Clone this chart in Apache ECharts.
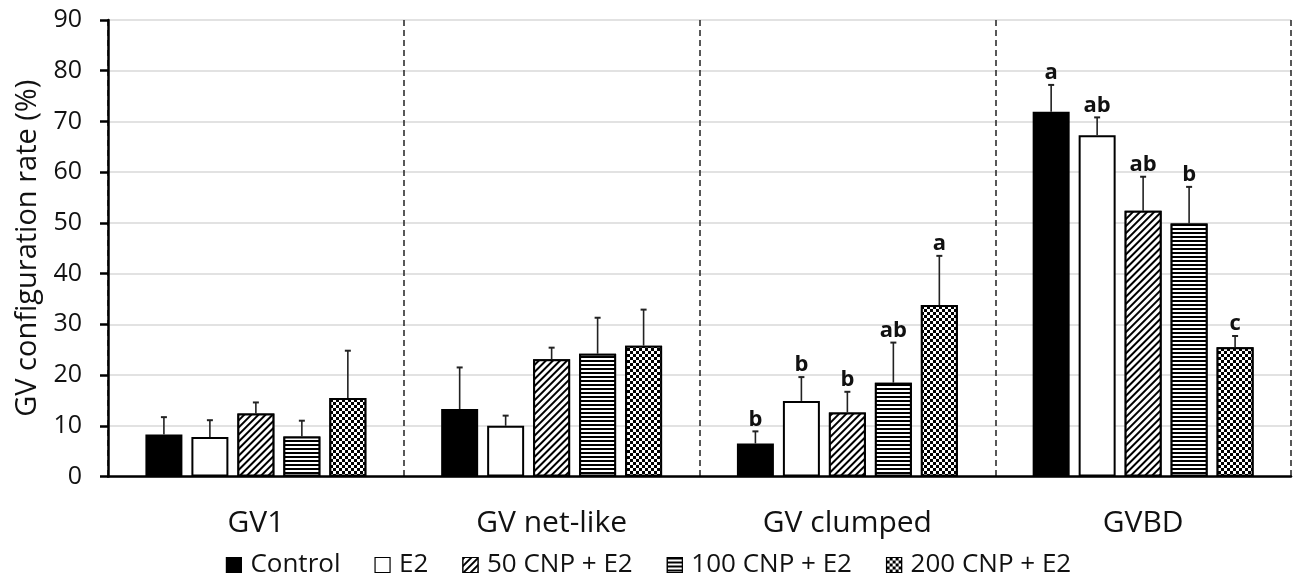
<!DOCTYPE html>
<html>
<head>
<meta charset="utf-8">
<script src="https://cdn.jsdelivr.net/npm/echarts@6/dist/echarts.min.js"></script>
<style>
html,body{margin:0;padding:0;background:#fff;}
#chart{width:1297px;height:582px;}
</style>
</head>
<body>
<div id="chart"></div>
<script>
const categories = ['GV1', 'GV net-like', 'GV clumped', 'GVBD'];
const seriesNames = ['Control', 'E2', '50 CNP + E2', '100 CNP + E2', '200 CNP + E2'];
const yTicks = [0, 10, 20, 30, 40, 50, 60, 70, 80, 90];

const control   = [8.3, 13.3, 6.5, 71.9];
const e2        = [7.8, 10.0, 14.9, 67.3];
const cnp50     = [12.4, 23.1, 12.6, 52.4];
const cnp100    = [7.9, 24.2, 18.5, 49.9];
const cnp200    = [15.5, 25.8, 33.8, 25.5];

const controlErr = [3.4, 8.2, 2.4, 5.3];
const e2Err      = [3.3, 2.0, 4.7, 3.5];
const cnp50Err   = [2.2, 2.3, 4.1, 6.7];
const cnp100Err  = [3.1, 7.1, 7.9, 7.2];
const cnp200Err  = [9.3, 7.1, 9.7, 2.2];

const controlLetters = ['', '', 'b', 'a'];
const e2Letters      = ['', '', 'b', 'ab'];
const cnp50Letters   = ['', '', 'b', 'ab'];
const cnp100Letters  = ['', '', 'ab', 'b'];
const cnp200Letters  = ['', '', 'a', 'c'];

const values = [control, e2, cnp50, cnp100, cnp200];
const errs = [controlErr, e2Err, cnp50Err, cnp100Err, cnp200Err];
const letters = [controlLetters, e2Letters, cnp50Letters, cnp100Letters, cnp200Letters];

const CAT_GAP = 0.253;
const BAR_GAP = 0.243;
const N = seriesNames.length;
const FONT = '"Open Sans", sans-serif';

const decals = [
  null,
  null,
  { symbol: 'rect', symbolSize: 1, dashArrayX: [1, 0], dashArrayY: [2, 3], rotation: -Math.PI / 4, color: '#000', backgroundColor: '#fff' },
  { symbol: 'rect', symbolSize: 1, dashArrayX: [1, 0], dashArrayY: [2, 2], rotation: 0, color: '#000', backgroundColor: '#fff' },
  { symbol: 'rect', symbolSize: 1, dashArrayX: [[3, 3], [0, 3, 3, 0]], dashArrayY: [3, 0], rotation: 0, color: '#000', backgroundColor: '#fff' }
];
const fills = ['#000', '#fff', '#fff', '#fff', '#fff'];

const barSeries = seriesNames.map((name, i) => {
  const s = {
    name: name,
    type: 'bar',
    data: values[i],
    barCategoryGap: (CAT_GAP * 100) + '%',
    barGap: (BAR_GAP * 100) + '%',
    itemStyle: { color: fills[i], borderColor: '#000', borderWidth: 2 },
    emphasis: { disabled: true },
    z: 2
  };
  if (decals[i]) s.itemStyle.decal = decals[i];
  return s;
});

const errData = [];
for (let s = 0; s < N; s++) {
  for (let c = 0; c < categories.length; c++) {
    errData.push([c, values[s][c], errs[s][c], s]);
  }
}

const errSeries = {
  name: 'errors',
  type: 'custom',
  data: errData,
  z: 3,
  silent: true,
  renderItem: function (params, api) {
    const cat = api.value(0), val = api.value(1), err = api.value(2), si = api.value(3);
    const bandW = api.size([1, 0])[0];
    const usable = bandW * (1 - CAT_GAP);
    const bw = usable / (N + (N - 1) * BAR_GAP);
    const center = api.coord([cat, 0])[0];
    const x = center - usable / 2 + si * bw * (1 + BAR_GAP) + bw / 2;
    const y0 = api.coord([cat, val])[1];
    const y1 = api.coord([cat, val + err])[1];
    const letter = letters[si][cat];
    const children = [
      { type: 'line', shape: { x1: x, y1: y0, x2: x, y2: y1 }, style: { stroke: '#222', lineWidth: 1.6 } },
      { type: 'line', shape: { x1: x - 3, y1: y1, x2: x + 3, y2: y1 }, style: { stroke: '#222', lineWidth: 2 } }
    ];
    if (letter) {
      children.push({
        type: 'text',
        style: { text: letter, x: x, y: y1 - 1, align: 'center', verticalAlign: 'bottom',
                 font: 'bold 22px "Open Sans", sans-serif', fill: '#111' }
      });
    }
    return { type: 'group', children: children };
  }
};

const chart = echarts.init(document.getElementById('chart'), null, { renderer: 'canvas' });
chart.setOption({
  animation: false,
  backgroundColor: '#fff',
  grid: { left: 108, right: 6, top: 20, bottom: 105.5, containLabel: false },
  legend: {
    data: seriesNames,
    left: 'center',
    top: 547,
    itemWidth: 15,
    itemHeight: 15,
    itemGap: 34,
    icon: 'rect',
    itemStyle: { borderColor: '#000', borderWidth: 1.2 },
    textStyle: { fontFamily: FONT, fontSize: 26, color: '#111', padding: [0, 0, 0, 4] }
  },
  xAxis: {
    type: 'category',
    data: categories,
    axisLine: { show: true, lineStyle: { color: '#000', width: 2.5 } },
    axisTick: { show: false },
    axisLabel: { fontFamily: FONT, fontSize: 30, color: '#111', margin: 32 },
    splitLine: { show: true, lineStyle: { color: '#222', width: 1.5, type: [6, 4] } }
  },
  yAxis: {
    type: 'value',
    min: yTicks[0],
    max: yTicks[yTicks.length - 1],
    interval: yTicks[1] - yTicks[0],
    name: 'GV configuration rate (%)',
    nameLocation: 'middle',
    nameRotate: 90,
    nameGap: 52,
    nameTextStyle: { fontFamily: FONT, fontSize: 29, color: '#111' },
    axisLine: { show: true, lineStyle: { color: '#000', width: 2.5 } },
    axisTick: { show: true, inside: false, length: 8, lineStyle: { color: '#000', width: 2.5 } },
    axisLabel: { fontFamily: FONT, fontSize: 25, color: '#111', margin: 26 },
    splitLine: { show: true, lineStyle: { color: '#d9d9d9', width: 1.5 } }
  },
  series: barSeries.concat([errSeries])
});
</script>
</body>
</html>
